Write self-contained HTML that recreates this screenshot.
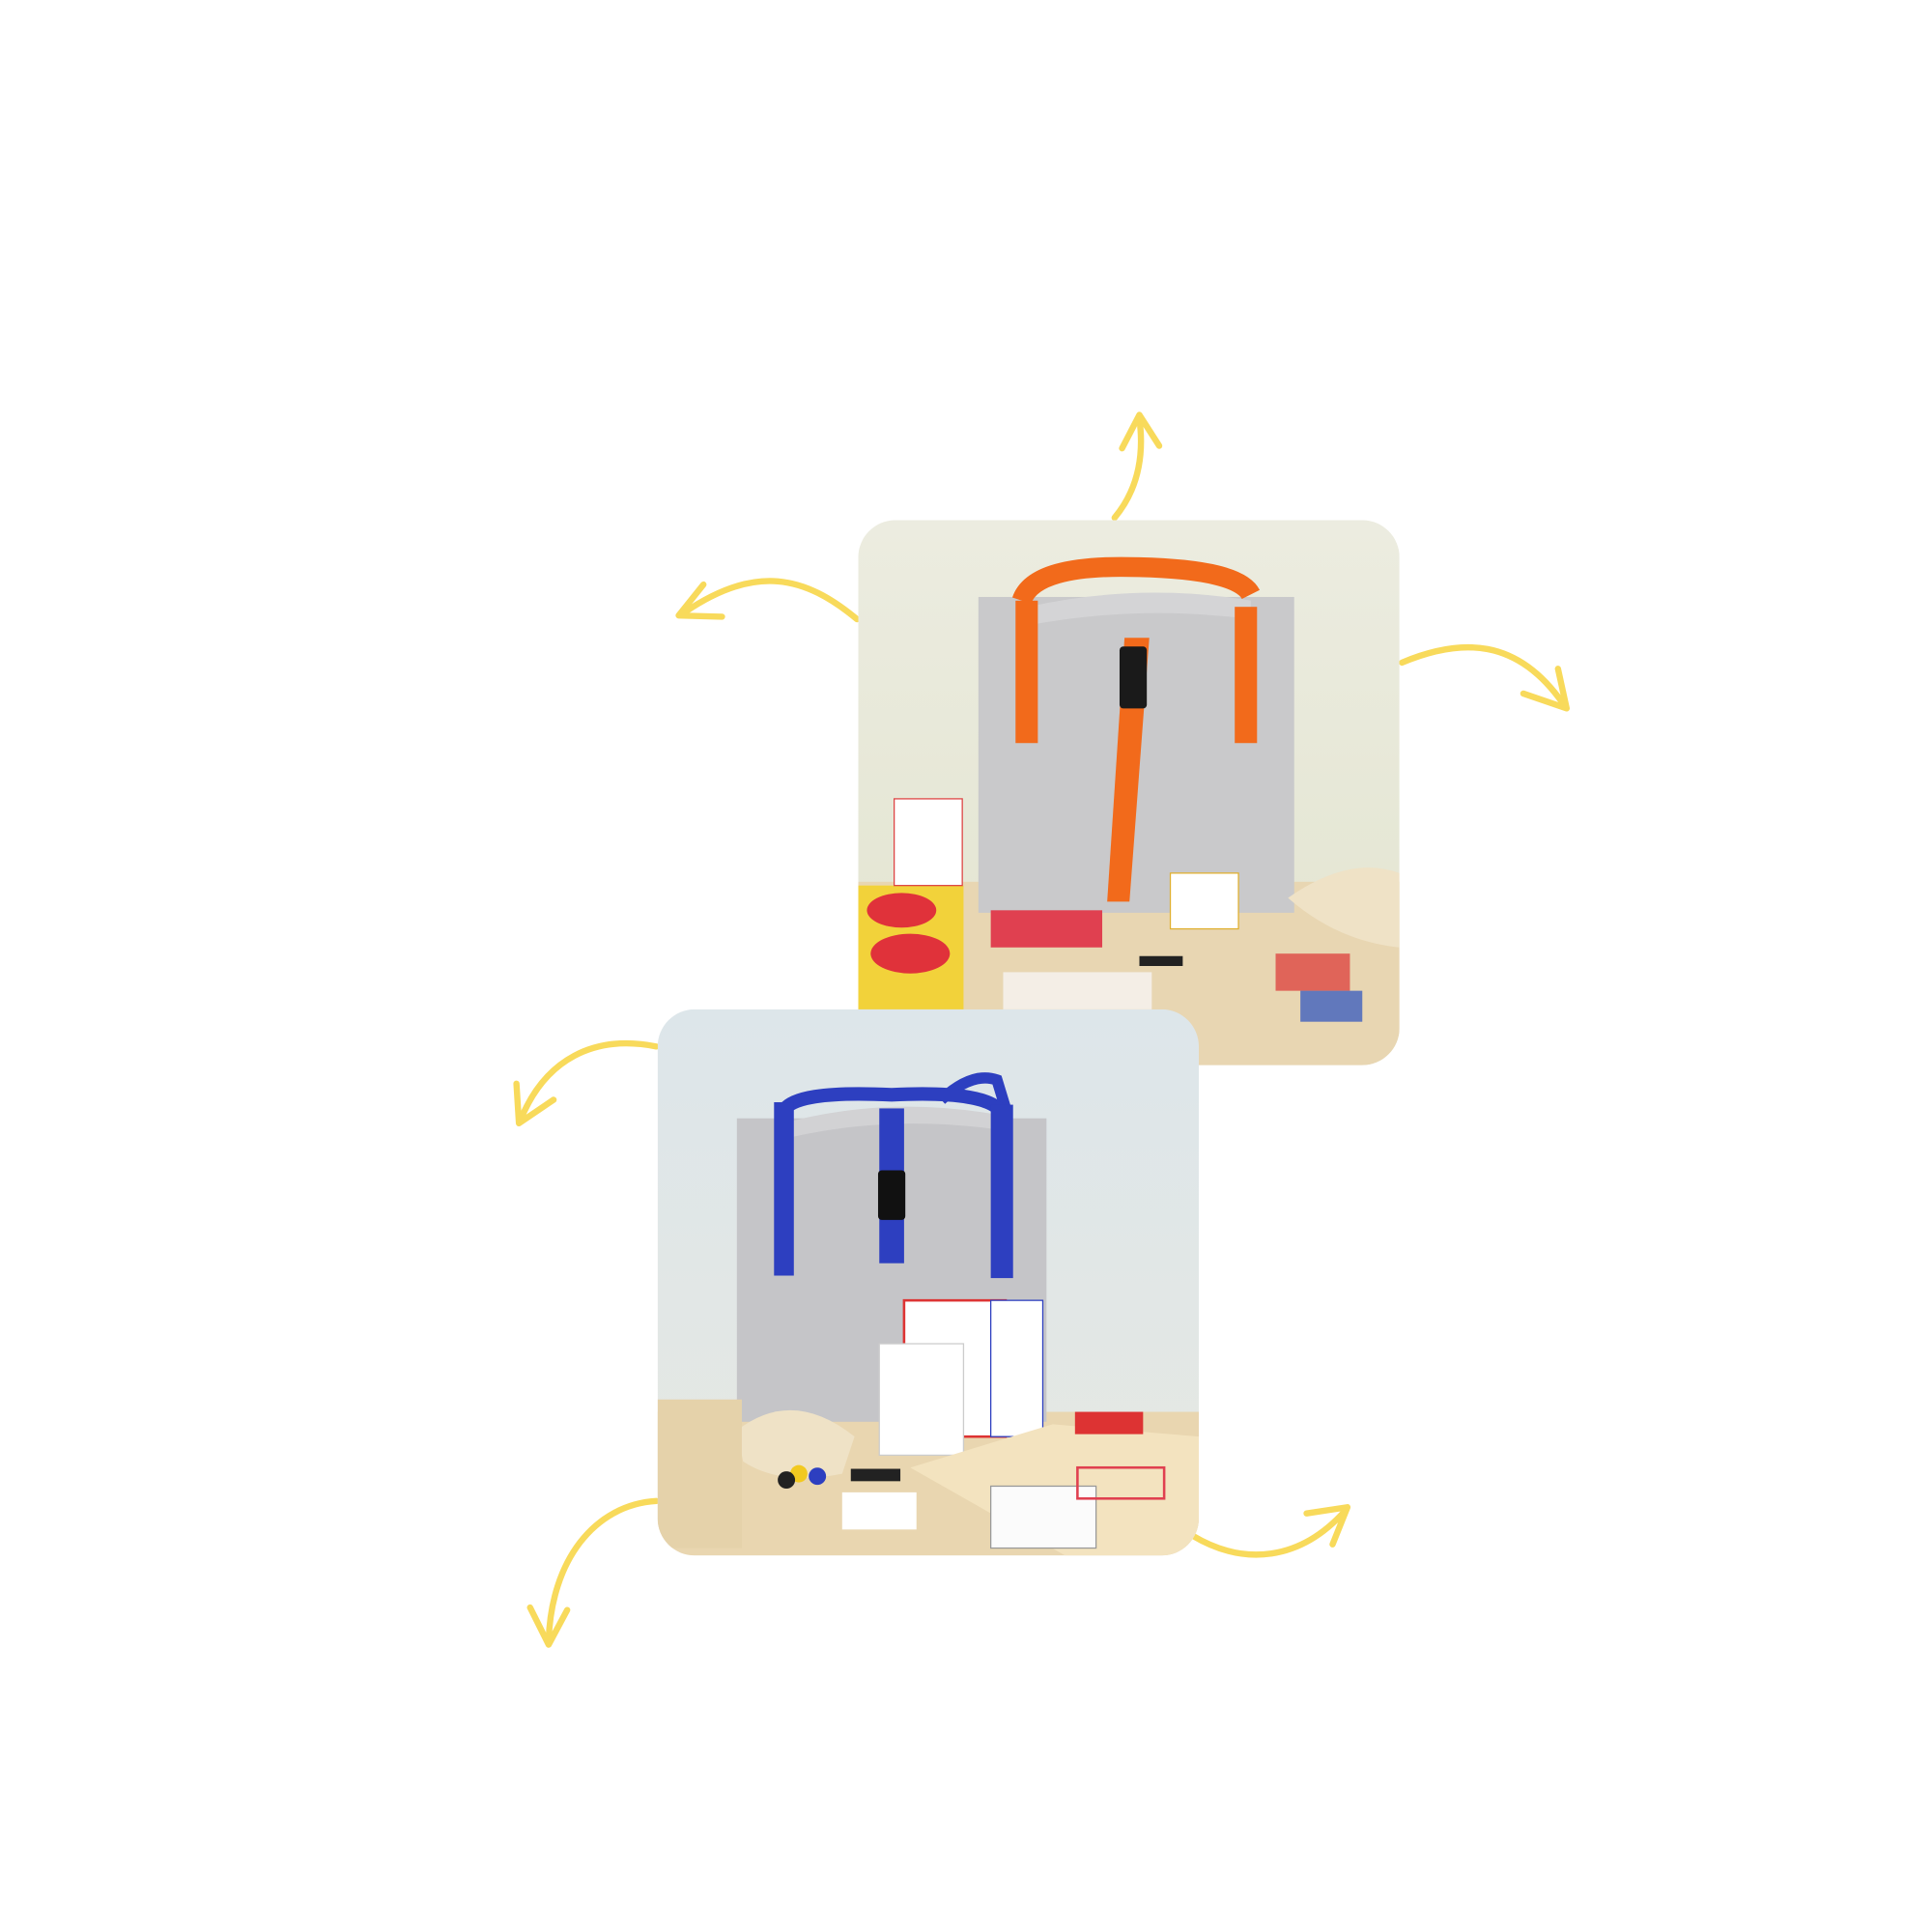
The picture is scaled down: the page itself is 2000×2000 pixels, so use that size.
<!DOCTYPE html>
<html><head><meta charset="utf-8"><style>html,body{margin:0;padding:0;background:#fff}svg{display:block}</style></head>
<body>
<svg width="2000" height="2000" viewBox="0 0 1560 1560" xmlns="http://www.w3.org/2000/svg">
<defs>
<clipPath id="c1"><rect x="693" y="420" width="437" height="440" rx="30"/></clipPath>
<clipPath id="c2"><rect x="531" y="815" width="437" height="441" rx="30"/></clipPath>
<linearGradient id="wall1" x1="0" y1="0" x2="0" y2="1"><stop offset="0" stop-color="#ecece0"/><stop offset="1" stop-color="#e2e4cf"/></linearGradient>
<linearGradient id="wall2" x1="0" y1="0" x2="0" y2="1"><stop offset="0" stop-color="#dde6ea"/><stop offset="1" stop-color="#e6e8e2"/></linearGradient>
</defs>
<g fill="none" stroke="#F8DA5B" stroke-width="5" stroke-linecap="round" stroke-linejoin="round">
<path d="M900 418 C915 400 925 375 920 338"/><path d="M906 362 L920 335 L936 360"/>
<path d="M692 500 C650 465 610 455 552 495"/><path d="M568 472 L548 497 L583 498"/>
<path d="M1132 535 C1180 515 1225 515 1262 568"/><path d="M1230 560 L1265 572 L1258 540"/>
<path d="M530 845 C480 835 440 855 420 905"/><path d="M417 875 L419 907 L447 888"/>
<path d="M530 1212 C480 1215 445 1260 443 1325"/><path d="M428 1298 L443 1328 L458 1300"/>
<path d="M963 1240 C1005 1265 1050 1260 1086 1220"/><path d="M1055 1222 L1088 1217 L1076 1247"/>
</g>
<g clip-path="url(#c1)">
<rect x="693" y="420" width="437" height="440" fill="url(#wall1)"/>
<rect x="693" y="712" width="437" height="150" fill="#e8d6b2"/>
<rect x="693" y="715" width="85" height="100" fill="#f2d23a"/>
<ellipse cx="728" cy="735" rx="28" ry="14" fill="#e0323a"/><ellipse cx="735" cy="770" rx="32" ry="16" fill="#e0323a"/>
<rect x="722" y="645" width="55" height="70" fill="#fff" stroke="#d44" stroke-width="1"/>
<rect x="790" y="482" width="255" height="255" fill="#c9c9cb"/>
<path d="M830 490 Q920 470 1010 485 L1010 500 Q920 488 830 505Z" fill="#d4d4d6"/>
<path d="M825 485 Q835 455 920 458 Q1000 460 1010 480" stroke="#f26a1b" stroke-width="16" fill="none"/>
<rect x="820" y="485" width="18" height="115" fill="#f26a1b"/>
<rect x="997" y="490" width="18" height="110" fill="#f26a1b"/>
<path d="M908 515 L928 515 L912 728 L894 728Z" fill="#f26a1b"/>
<rect x="904" y="522" width="22" height="50" rx="3" fill="#1a1a1a"/>
<rect x="945" y="705" width="55" height="45" fill="#fff" stroke="#e0b030" stroke-width="1"/>
<rect x="800" y="735" width="90" height="30" fill="#e04050"/>
<rect x="810" y="785" width="120" height="30" fill="#f4eee6"/>
<rect x="920" y="772" width="35" height="8" fill="#222"/>
<path d="M1040 725 Q1090 690 1130 705 L1130 765 Q1080 760 1040 725Z" fill="#efe2c6"/>
<rect x="1030" y="770" width="60" height="30" fill="#d33" opacity=".7"/>
<rect x="1050" y="800" width="50" height="25" fill="#2850c0" opacity=".7"/>
</g>
<g clip-path="url(#c2)">
<rect x="531" y="815" width="437" height="441" fill="url(#wall2)"/>
<rect x="531" y="1140" width="437" height="116" fill="#e9d6b0"/>
<rect x="595" y="903" width="250" height="245" fill="#c5c5c8"/>
<path d="M640 905 Q720 885 805 900 L805 912 Q720 900 640 918Z" fill="#d2d2d4"/>
<path d="M760 888 Q785 865 805 872 L812 895" stroke="#2d3fc0" stroke-width="9" fill="none"/>
<path d="M632 898 Q640 880 720 884 Q800 880 810 900" stroke="#2d3fc0" stroke-width="11" fill="none"/>
<rect x="625" y="890" width="16" height="140" fill="#2d3fc0"/>
<rect x="800" y="892" width="18" height="140" fill="#2d3fc0"/>
<rect x="710" y="895" width="20" height="125" fill="#2d3fc0"/>
<rect x="709" y="945" width="22" height="40" rx="3" fill="#111"/>
<rect x="730" y="1050" width="82" height="110" fill="#fff" stroke="#d33" stroke-width="2"/>
<rect x="800" y="1050" width="42" height="110" fill="#fff" stroke="#2d3fc0" stroke-width="1"/>
<rect x="710" y="1085" width="68" height="90" fill="#fff" stroke="#ccc"/>
<path d="M595 1155 Q640 1120 690 1160 L680 1190 Q630 1200 600 1180Z" fill="#efe2c6"/>
<circle cx="645" cy="1190" r="7" fill="#f2c920"/><circle cx="660" cy="1192" r="7" fill="#2d3fc0"/><circle cx="635" cy="1195" r="7" fill="#222"/>
<rect x="687" y="1186" width="40" height="10" fill="#222"/>
<path d="M735 1185 L850 1150 L968 1160 L968 1256 L860 1256Z" fill="#f3e3bf"/>
<rect x="800" y="1200" width="85" height="50" fill="#fbfbfb" stroke="#999"/>
<rect x="870" y="1185" width="70" height="25" fill="none" stroke="#e04050" stroke-width="2"/>
<rect x="531" y="1130" width="68" height="120" fill="#e5d2aa"/>
<rect x="680" y="1205" width="60" height="30" fill="#fff"/>
<rect x="868" y="1140" width="55" height="18" fill="#d33"/>
</g>
</svg>
</body></html>
